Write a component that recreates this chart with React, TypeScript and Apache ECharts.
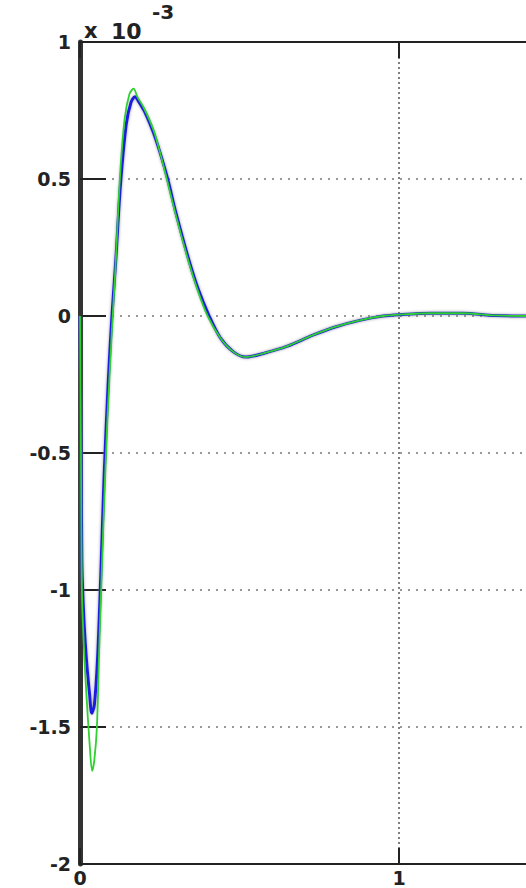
import React, { useEffect, useRef } from "react";
import * as echarts from "echarts";

const yTicks = [-2, -1.5, -1, -0.5, 0, 0.5, 1];
const xTicks = [0, 1];

const greenT = [0, 0.003, 0.006, 0.012, 0.02, 0.03, 0.038, 0.045, 0.053, 0.06, 0.072, 0.085, 0.1, 0.11, 0.125, 0.14, 0.155, 0.168, 0.18, 0.2, 0.23, 0.25, 0.272, 0.3, 0.34, 0.37, 0.4, 0.44, 0.48, 0.52, 0.58, 0.65, 0.73, 0.8, 0.88, 0.95, 1.0, 1.1, 1.2, 1.3, 1.4, 1.6, 2.0];
const greenV = [0, -0.5, -1.0, -1.2, -1.38, -1.56, -1.66, -1.62, -1.5, -1.22, -0.8, -0.4, -0.05, 0.15, 0.5, 0.72, 0.81, 0.83, 0.8, 0.76, 0.68, 0.6, 0.5, 0.37, 0.2, 0.09, 0, -0.08, -0.13, -0.15, -0.135, -0.11, -0.07, -0.04, -0.015, 0, 0.005, 0.01, 0.01, 0.002, 0, 0, 0];

const blueT = [0, 0.003, 0.006, 0.012, 0.02, 0.03, 0.037, 0.045, 0.055, 0.065, 0.075, 0.088, 0.1, 0.112, 0.127, 0.145, 0.16, 0.172, 0.185, 0.205, 0.23, 0.25, 0.275, 0.3, 0.34, 0.37, 0.405, 0.44, 0.48, 0.52, 0.58, 0.65, 0.73, 0.8, 0.88, 0.95, 1.0, 1.1, 1.2, 1.3, 1.4, 1.6, 2.0];
const blueV = [0, -0.45, -0.9, -1.1, -1.25, -1.38, -1.45, -1.42, -1.25, -0.95, -0.6, -0.25, 0, 0.2, 0.48, 0.7, 0.78, 0.8, 0.78, 0.74, 0.67, 0.6, 0.5, 0.38, 0.21, 0.1, 0, -0.08, -0.13, -0.15, -0.135, -0.11, -0.07, -0.04, -0.015, 0, 0.005, 0.01, 0.01, 0.002, 0, 0, 0];

const pairs = (t: number[], v: number[]) => t.map((x, i) => [x, v[i]]);

export default function App() {
  const ref = useRef<HTMLDivElement>(null);
  useEffect(() => {
    if (!ref.current) return;
    const chart = echarts.init(ref.current, undefined, { renderer: "svg" });
    const font = "DejaVu Sans";
    chart.setOption({
      animation: false,
      backgroundColor: "#ffffff",
      grid: {
        left: 80,
        top: 42,
        height: 822,
        width: 638,
        outerBoundsMode: "none",
        containLabel: false,
        show: true,
        borderColor: "#222",
        borderWidth: 2,
      },
      xAxis: [
        {
          type: "value",
          min: 0,
          max: 2,
          interval: 1,
          position: "bottom",
          axisLine: { show: true, onZero: false, lineStyle: { color: "#222", width: 2 } },
          axisTick: { show: true, inside: true, length: 16, lineStyle: { color: "#222", width: 2 } },
          axisLabel: {
            show: true,
            color: "#222",
            fontFamily: font,
            fontWeight: "bold",
            fontSize: 19,
            margin: 4,
            formatter: (v: number) => (xTicks.includes(v) ? String(v) : ""),
          },
          splitLine: { show: true, lineStyle: { color: "#555", type: [2, 3], width: 1.5 } },
        },
        {
          type: "value",
          min: 0,
          max: 2,
          interval: 1,
          position: "top",
          axisLine: { show: true, onZero: false, lineStyle: { color: "#222", width: 2 } },
          axisTick: { show: true, inside: true, length: 16, lineStyle: { color: "#222", width: 2 } },
          axisLabel: { show: false },
          splitLine: { show: false },
        },
      ],
      yAxis: {
        type: "value",
        min: -2,
        max: 1,
        interval: 0.5,
        axisLine: { show: true, onZero: false, lineStyle: { color: "#333", width: 5 } },
        axisTick: { show: true, inside: true, length: 26, lineStyle: { color: "#222", width: 2 } },
        axisLabel: {
          color: "#222",
          fontFamily: font,
          fontWeight: "bold",
          fontSize: 19,
          margin: 9,
          formatter: (v: number) => (yTicks.includes(v) ? String(v) : ""),
        },
        splitLine: { show: true, lineStyle: { color: "#777", type: [2, 6], width: 1.5 } },
      },
      graphic: [
        {
          type: "text",
          left: 84,
          top: 20,
          style: { text: "x", fill: "#222", font: `bold 21px "${font}"` },
        },
        {
          type: "text",
          left: 111,
          top: 20,
          style: { text: "10", fill: "#222", font: `bold 22px "${font}"` },
        },
        {
          type: "text",
          left: 152,
          top: 2,
          style: { text: "-3", fill: "#222", font: `bold 20px "${font}"` },
        },
      ],
      series: [
        {
          type: "line",
          data: pairs(blueT, blueV),
          showSymbol: false,
          smooth: 0.3,
          lineStyle: { color: "#1f1fe0", width: 3, shadowColor: "rgba(120,120,120,0.7)", shadowBlur: 3 },
          z: 3,
        },
        {
          type: "line",
          data: pairs(greenT, greenV),
          showSymbol: false,
          smooth: 0.3,
          lineStyle: { color: "#2fd02f", width: 1.8 },
          z: 4,
        },
      ],
    });
    return () => chart.dispose();
  }, []);
  return (
    <div
      ref={ref}
      style={{ position: "fixed", left: 0, top: 0, width: 526, height: 888, background: "#fff" }}
    />
  );
}
